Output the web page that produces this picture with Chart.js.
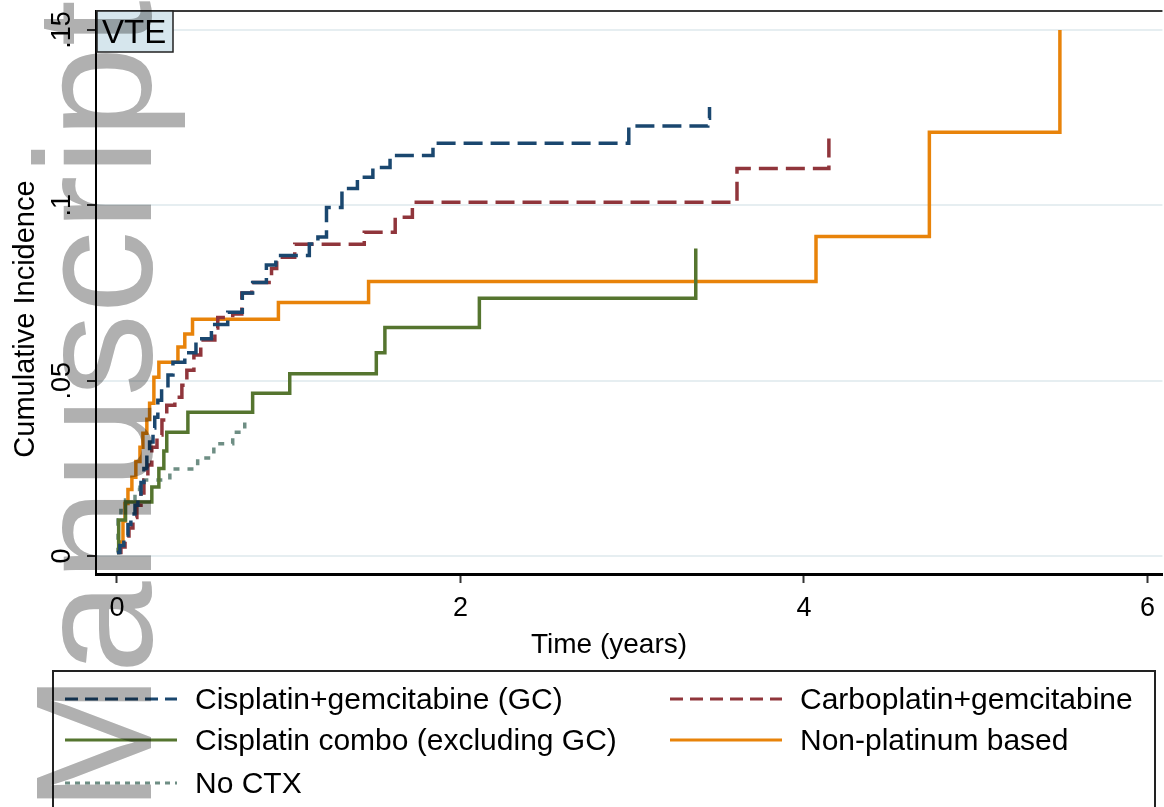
<!DOCTYPE html>
<html>
<head>
<meta charset="utf-8">
<title>VTE cumulative incidence</title>
<script src="https://cdn.jsdelivr.net/npm/chart.js@4.4.1/dist/chart.umd.min.js"></script>
<style>
  html, body { margin: 0; padding: 0; background: #fff; overflow: hidden; }
  #wrap { position: relative; width: 1164px; height: 807px; overflow: hidden; font-family: 'Liberation Sans', Arial, sans-serif; }
  #vte { position: absolute; left: 0; top: 0; }
  #legend { position: absolute; left: 52px; top: 670px; width: 1104px; height: 160px; border: 2px solid #222; box-sizing: border-box; }
  .item { position: absolute; height: 34px; }
  .item svg { position: absolute; left: 0; top: 13px; }
  .item span { position: absolute; top: 0; white-space: nowrap; font-size: 30px; line-height: 34px; color: #000; }
  #watermark { position: absolute; left: 11px; top: 812px; font-size: 166px; line-height: 1; color: #b0b0b0;
    white-space: nowrap; transform-origin: 0 0; transform: rotate(-90deg); mix-blend-mode: multiply; pointer-events: none; }
</style>
</head>
<body>
<div id="wrap">
  <canvas id="vte" width="1164" height="807"></canvas>
  <div id="legend"></div>
  <div id="watermark">Manuscript</div>
</div>
<script>
// cumulative incidence (time in years)
const timeGC = [0, 0.017, 0.04, 0.064, 0.081, 0.105, 0.122, 0.14, 0.157, 0.174, 0.19, 0.21, 0.22, 0.238, 0.26, 0.297, 0.326, 0.395, 0.46, 0.55, 0.645, 0.73, 0.79, 0.87, 0.925, 1.12, 1.17, 1.22, 1.31, 1.40, 1.49, 1.59, 1.84, 2.98, 3.44, 3.45];
const cifGC = [0.001, 0.003, 0.006, 0.009, 0.012, 0.0145, 0.017, 0.021, 0.025, 0.029, 0.0325, 0.0365, 0.0396, 0.0444, 0.048, 0.0516, 0.0553, 0.058, 0.062, 0.066, 0.0695, 0.075, 0.078, 0.083, 0.0857, 0.089, 0.091, 0.0994, 0.1048, 0.108, 0.1108, 0.1142, 0.1177, 0.1226, 0.1248, 0.128];

const timeCarbo = [0, 0.023, 0.047, 0.07, 0.093, 0.116, 0.14, 0.157, 0.18, 0.203, 0.233, 0.262, 0.29, 0.337, 0.378, 0.407, 0.448, 0.488, 0.57, 0.587, 0.674, 0.727, 0.785, 0.90, 0.93, 1.035, 1.44, 1.62, 1.72, 3.61, 4.145];
const cifCarbo = [0.001, 0.0026, 0.005, 0.008, 0.011, 0.0145, 0.018, 0.0217, 0.026, 0.031, 0.0345, 0.0388, 0.043, 0.0453, 0.0487, 0.053, 0.0573, 0.0616, 0.065, 0.068, 0.069, 0.075, 0.078, 0.082, 0.0852, 0.0889, 0.0923, 0.0966, 0.1009, 0.1105, 0.121];

const timeCisCombo = [0, 0.01, 0.05, 0.203, 0.244, 0.273, 0.29, 0.413, 0.79, 1.006, 1.51, 1.56, 2.11, 3.37];
const cifCisCombo = [0.001, 0.0103, 0.0154, 0.0197, 0.025, 0.030, 0.0353, 0.041, 0.0464, 0.052, 0.058, 0.0652, 0.0735, 0.0877];

const timeNonPlat = [0, 0.035, 0.047, 0.064, 0.087, 0.11, 0.134, 0.151, 0.174, 0.19, 0.215, 0.244, 0.355, 0.395, 0.44, 0.94, 1.465, 4.07, 4.73, 5.49];
const cifNonPlat = [0.004, 0.01, 0.015, 0.019, 0.0225, 0.027, 0.031, 0.035, 0.039, 0.0436, 0.051, 0.0553, 0.0596, 0.0633, 0.0675, 0.0723, 0.0783, 0.0911, 0.1208, 0.150];

const timeNoCtx = [0, 0.006, 0.023, 0.05, 0.105, 0.134, 0.308, 0.47, 0.564, 0.674, 0.744];
const cifNoCtx = [0.001, 0.0103, 0.013, 0.016, 0.019, 0.0217, 0.0248, 0.028, 0.032, 0.0353, 0.0393];

const seriesNames = ['Cisplatin+gemcitabine (GC)', 'Carboplatin+gemcitabine', 'Cisplatin combo (excluding GC)', 'Non-platinum based', 'No CTX'];
const xTicks = [0, 2, 4, 6];
const yTicks = [0, 0.05, 0.1, 0.15];
const yTickLabels = ['0', '.05', '.1', '.15'];

// stata s2color-ish
const colors = ['#1a476f', '#90353b', '#55752f', '#e8830a', '#6e8e84'];
const dashes = [[19, 8], [19, 8], [], [], [6, 8]];
const legendDashes = ['13 7', '13 7', '', '', '5 5'];

const FONT = '"Liberation Sans", Arial, sans-serif';

const toPoints = (t, v) => t.map((x, i) => ({ x: x, y: v[i] }));
const series = [
    toPoints(timeGC, cifGC),
    toPoints(timeCarbo, cifCarbo),
    toPoints(timeCisCombo, cifCisCombo),
    toPoints(timeNonPlat, cifNonPlat),
    toPoints(timeNoCtx, cifNoCtx)
];

// frame, VTE box and the rotated stata-style labels
const decorations = {
    id: 'decorations',
    afterDraw(chart) {
        const { ctx, chartArea: a } = chart;
        const y = chart.scales.y;
        ctx.save();

        ctx.strokeStyle = '#3a3a3a';
        ctx.lineWidth = 2;
        ctx.beginPath();
        ctx.moveTo(a.left, a.top);
        ctx.lineTo(a.right, a.top);
        ctx.stroke();

        ctx.fillStyle = '#000';
        ctx.font = '27px ' + FONT;
        ctx.textAlign = 'center';
        ctx.textBaseline = 'alphabetic';
        y.ticks.forEach((t, i) => {
            ctx.save();
            ctx.translate(70, y.getPixelForValue(t.value));
            ctx.rotate(-Math.PI / 2);
            ctx.fillText(yTickLabels[i], 0, 0);
            ctx.restore();
        });

        ctx.save();
        ctx.font = '29px ' + FONT;
        ctx.translate(34, 319);
        ctx.rotate(-Math.PI / 2);
        ctx.fillText('Cumulative Incidence', 0, 0);
        ctx.restore();

        ctx.font = '28px ' + FONT;
        ctx.fillText('Time (years)', 609, 653);

        // VTE label
        ctx.fillStyle = '#d6e6ed';
        ctx.fillRect(a.left + 1, a.top, 76, 41);
        ctx.strokeStyle = '#222';
        ctx.lineWidth = 1.5;
        ctx.strokeRect(a.left + 1, a.top, 76, 41);
        ctx.fillStyle = '#000';
        ctx.font = '33px ' + FONT;
        ctx.textAlign = 'left';
        ctx.fillText('VTE', a.left + 6, a.top + 32);

        ctx.restore();
    }
};

new Chart(document.getElementById('vte'), {
    type: 'line',
    data: {
        datasets: series.map((pts, i) => ({
            label: seriesNames[i],
            data: pts,
            borderColor: colors[i],
            borderWidth: 3.5,
            borderDash: dashes[i],
            borderCapStyle: 'butt',
            stepped: 'before',
            pointRadius: 0,
            fill: false,
            tension: 0
        }))
    },
    options: {
        responsive: false,
        animation: false,
        devicePixelRatio: 1,
        layout: { padding: { top: 11, bottom: 147, left: 0, right: 0 } },
        scales: {
            x: {
                type: 'linear',
                min: -0.122,
                max: 6.087,
                afterBuildTicks: (s) => { s.ticks = xTicks.map(v => ({ value: v })); },
                afterFit: (s) => { s.height = 86; },
                border: { display: true, color: '#000', width: 3 },
                grid: { drawOnChartArea: false, drawTicks: true, tickLength: 9, tickColor: '#333', tickWidth: 2 },
                ticks: { color: '#000', font: { family: FONT, size: 27 }, padding: 9, maxRotation: 0, autoSkip: false }
            },
            y: {
                min: -0.0051,
                max: 0.1554,
                afterBuildTicks: (s) => { s.ticks = yTicks.map(v => ({ value: v })); },
                afterFit: (s) => { s.width = 96; },
                border: { display: true, color: '#000', width: 2 },
                grid: { color: '#e6eef1', lineWidth: 2, drawTicks: true, tickLength: 9, tickColor: '#333', tickWidth: 2 },
                ticks: { display: false }
            }
        },
        plugins: {
            legend: { display: false },
            tooltip: { enabled: false }
        }
    },
    plugins: [decorations]
});

// legend, two columns like the stata one
const legend = document.getElementById('legend');
const rowTop = [10, 51, 94];
const colLeft = [11, 616];
const textOffset = [130, 130];
seriesNames.forEach((name, i) => {
    const col = i % 2, row = Math.floor(i / 2);
    const item = document.createElement('div');
    item.className = 'item';
    item.style.left = colLeft[col] + 'px';
    item.style.top = rowTop[row] + 'px';
    item.innerHTML =
        '<svg width="112" height="8"><line x1="0" y1="4" x2="112" y2="4" stroke="' + colors[i] +
        '" stroke-width="3"' + (legendDashes[i] ? ' stroke-dasharray="' + legendDashes[i] + '"' : '') + '/></svg>' +
        '<span style="left:' + textOffset[col] + 'px">' + name + '</span>';
    legend.appendChild(item);
});
</script>
</body>
</html>
